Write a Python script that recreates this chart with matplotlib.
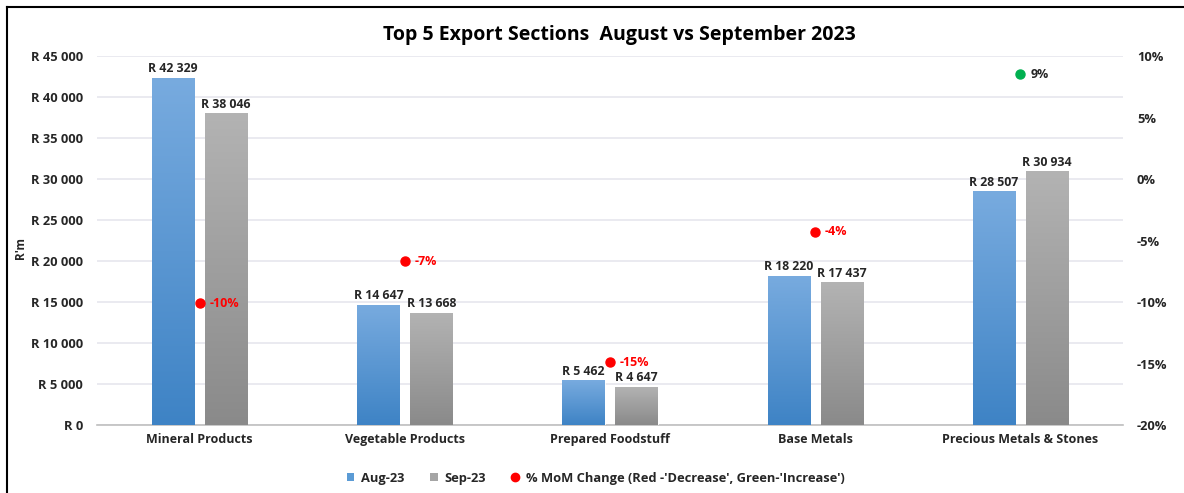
import numpy as np
import matplotlib.pyplot as plt
from matplotlib.patches import Patch
from matplotlib.lines import Line2D
from matplotlib.colors import LinearSegmentedColormap

plt.rcParams['font.family'] = ['Open Sans', 'DejaVu Sans']

# data
categories = ["Mineral Products", "Vegetable Products", "Prepared Foodstuff",
              "Base Metals", "Precious Metals & Stones"]
aug_23 = [42329, 14647, 5462, 18220, 28507]
sep_23 = [38046, 13668, 4647, 17437, 30934]
mom_change = [-10.1, -6.7, -14.9, -4.3, 8.5]   # percent
mom_labels = ["-10%", "-7%", "-15%", "-4%", "9%"]

BLUE_TOP, BLUE_BOT = "#78abdf", "#3e83c5"
GREY_TOP, GREY_BOT = "#b3b3b3", "#8a8a8a"
TXT = "#262626"


def fmt_rand(v):
    return "R " + f"{int(v):,}".replace(",", " ")


def gradient_bars(ax, bars, top, bot):
    cmap = LinearSegmentedColormap.from_list("g", [bot, top])
    grad = np.linspace(0, 1, 256).reshape(-1, 1)
    for b in bars:
        x0, y0 = b.get_x(), b.get_y()
        w, h = b.get_width(), b.get_height()
        im = ax.imshow(grad, cmap=cmap, origin="lower", aspect="auto",
                       extent=[x0, x0 + w, y0, y0 + h], zorder=b.get_zorder())
        im.set_clip_path(b)
        b.set_facecolor("none")


fig = plt.figure(figsize=(11.84, 4.93), dpi=100)
ax = fig.add_axes([0.0819, 0.1379, 0.8666, 0.7485])

x = np.arange(len(categories))
off, width = 0.129, 0.205
b1 = ax.bar(x - off, aug_23, width, color=BLUE_TOP, edgecolor="white", linewidth=0.6, zorder=3)
b2 = ax.bar(x + off, sep_23, width, color=GREY_TOP, edgecolor="white", linewidth=0.6, zorder=3)
gradient_bars(ax, b1, BLUE_TOP, BLUE_BOT)
gradient_bars(ax, b2, GREY_TOP, GREY_BOT)

for xi, v in zip(x - off, aug_23):
    ax.text(xi, v + 300, fmt_rand(v), ha="center", va="bottom", fontsize=8.8,
            fontweight="bold", color=TXT, zorder=5)
for xi, v in zip(x + off, sep_23):
    ax.text(xi, v + 300, fmt_rand(v), ha="center", va="bottom", fontsize=8.8,
            fontweight="bold", color=TXT, zorder=5)

ax.set_xlim(-0.5, 4.5)
ax.set_ylim(0, 45000)
ax.set_yticks(np.arange(0, 45001, 5000))
ax.set_yticklabels([fmt_rand(v) for v in np.arange(0, 45001, 5000)])
ax.set_xticks(x)
ax.set_xticklabels(categories)
ax.yaxis.grid(True, color="#e6e6ee", linewidth=1.2, zorder=0)
ax.set_axisbelow(True)
for s in ["top", "right", "left"]:
    ax.spines[s].set_visible(False)
ax.spines["bottom"].set_color("#bfbfbf")
ax.spines["bottom"].set_linewidth(1.2)
ax.tick_params(length=0, labelsize=9.3, colors=TXT, pad=10)
ax.tick_params(axis="x", labelsize=9, pad=6)
for lab in ax.get_xticklabels() + ax.get_yticklabels():
    lab.set_fontweight("bold")
ax.set_ylabel("R'm", fontsize=8.5, fontweight="bold", color=TXT)
ax.yaxis.set_label_coords(-0.068, 0.48)

ax2 = ax.twinx()
ax2.set_ylim(-20, 10)
ax2.set_yticks(np.arange(-20, 11, 5))
ax2.set_yticklabels([f"{v}%" for v in np.arange(-20, 11, 5)])
for s in ax2.spines.values():
    s.set_visible(False)
ax2.tick_params(length=0, labelsize=9.3, colors=TXT, pad=10)
for lab in ax2.get_yticklabels():
    lab.set_fontweight("bold")

for xi, m, lab in zip(x, mom_change, mom_labels):
    c = "#00b050" if m > 0 else "#ff0000"
    tc = TXT if m > 0 else "#ff0000"
    ax2.plot(xi, m, "o", color=c, markersize=6.5, zorder=6)
    ax2.annotate(lab, (xi, m), xytext=(7, 0), textcoords="offset points",
                 ha="left", va="center", fontsize=9, fontweight="bold", color=tc)

fig.text(0.523, 0.929, "Top 5 Export Sections  August vs September 2023", ha="center",
         va="center", fontsize=14, fontweight="bold", color="black")

handles = [Patch(facecolor="#5b9bd5"), Patch(facecolor="#a5a5a5"),
           Line2D([], [], marker="o", color="#ff0000", linestyle="none", markersize=6)]
leg = fig.legend(handles, ["Aug-23", "Sep-23", "% MoM Change (Red -'Decrease', Green-'Increase')"],
                 loc="center", bbox_to_anchor=(0.503, 0.03), ncol=3, frameon=False,
                 fontsize=9.3, handlelength=0.6, handleheight=0.6, columnspacing=2.0,
                 handletextpad=0.5)
for t in leg.get_texts():
    t.set_fontweight("bold")
    t.set_color(TXT)

# frame lines left and top
fig.add_artist(Line2D([7 / 1184, 7 / 1184], [0, 1 - 7 / 493], transform=fig.transFigure,
                      color="black", linewidth=1.5))
fig.add_artist(Line2D([7 / 1184, 1], [1 - 7 / 493, 1 - 7 / 493], transform=fig.transFigure,
                      color="black", linewidth=1.5))

fig.savefig("out.png", dpi=100)
